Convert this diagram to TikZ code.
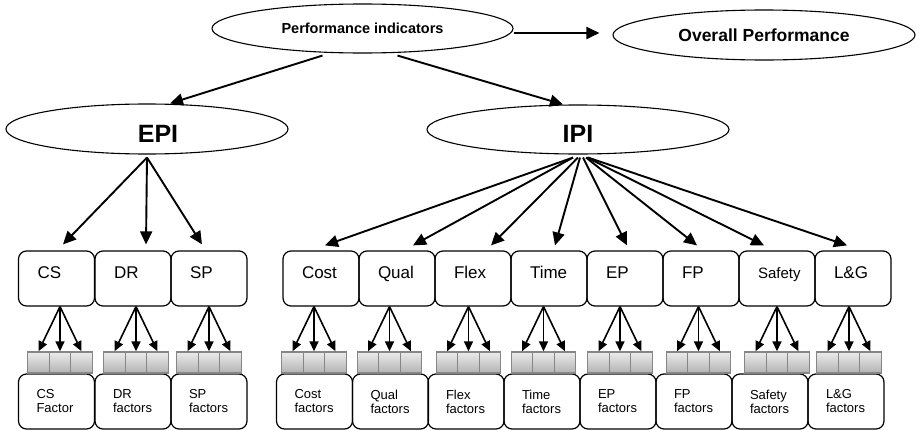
\documentclass[tikz,border=0pt]{standalone}
\usepackage{fontspec}
\setmainfont{Liberation Sans}
\usetikzlibrary{shapes.geometric,arrows.meta,calc}

\begin{document}
\begin{tikzpicture}[x=1pt,y=-1pt,
    oval/.style={draw,ellipse,line width=1.1pt,inner sep=0pt},
    topbox/.style={draw,rounded corners=8pt,line width=1.2pt,minimum width=76pt,minimum height=55pt,inner xsep=19pt,inner ysep=0pt,text width=38pt,align=left,text height=12pt,text depth=12pt,font=\fontsize{17}{17}\selectfont},
    factbox/.style={draw,rounded corners=8pt,line width=1.2pt,minimum width=76pt,minimum height=55pt,inner xsep=18pt,inner ysep=0pt,text width=40pt,align=left,font=\fontsize{13}{14}\selectfont},
    cell/.style={draw=gray!95,line width=1.4pt,top color=gray!15,bottom color=gray!60,minimum width=21.5pt,minimum height=21pt,inner sep=0pt},
    bigarr/.style={-{Triangle[length=13pt,width=12pt]},line width=1.9pt},
    smallarr/.style={-{Triangle[length=10pt,width=9pt]},line width=1.6pt}]
    \useasboundingbox (0,0) rectangle (916,431);
    % top level
    \node[oval,minimum width=301pt,minimum height=49pt,font=\bfseries\fontsize{14.5}{14.5}\selectfont] (perf) at (362.5,28.5) {Performance indicators\hspace{24pt}};
    \node[oval,minimum width=302pt,minimum height=50pt,font=\bfseries\fontsize{17.5}{17.5}\selectfont] (overall) at (764,35) {Overall Performance\hspace{20pt}};
    \node[oval,minimum width=282pt,minimum height=50pt,font=\bfseries\fontsize{25}{25}\selectfont,text height=26pt,text depth=0pt] (epi) at (147,129) {\hspace{22pt}EPI};
    \node[oval,minimum width=302pt,minimum height=49pt,font=\bfseries\fontsize{25}{25}\selectfont,text height=26pt,text depth=0pt] (ipi) at (578,129.5) {IPI};
    \draw[bigarr] ($(perf.east)+(0,4.5)$) -- ($(perf.east -| overall.west)+(-13,4.5)$);
    \draw[bigarr] ($(perf.south)+(-40,2)$) -- ($(epi.north)+(23,0)$);
    \draw[bigarr] ($(perf.south)+(35,2)$) -- ($(ipi.north)+(-15,0)$);
    % indicator boxes, factor cells and factor boxes
    \foreach \i/\lab/\tx/\bx/\sx/\fac in {1/CS/56.5/56.5/60/{CS\\Factor},
        2/DR/133/133/136/{DR\\factors}, 3/SP/209/209/209/{SP\\factors},
        4/Cost/321/314.5/314/{Cost\\factors}, 5/Qual/397/390.5/389.5/{Qual\\factors},
        6/Flex/473/466/468.5/{Flex\\factors}, 7/Time/549/542/543.5/{Time\\factors},
        8/EP/625/618/620/{EP\\factors}, 9/FP/701/694/698.5/{FP\\factors},
        10/{\fontsize{15}{15}\selectfont Safety}/777/770/777/{Safety\\factors},
        11/L\&G/853/846/849/{L\&G\\factors}}
    {
        \node[topbox] (top\i) at (\tx,278.5) {\lab};
        \node[factbox] (fac\i) at (\bx,401.5) {\fac};
        \node[cell] (cell\i-1) at (\sx-21.5,362.5) {};
        \node[cell] (cell\i-2) at (\sx,362.5) {};
        \node[cell] (cell\i-3) at (\sx+21.5,362.5) {};
        \foreach \j in {1,2,3}
            \draw[smallarr] (top\i.south -| cell\i-2.north) -- (cell\i-\j.north);
    }
    % EPI and IPI arrows
    \foreach \i/\dx in {1/6.5, 2/13, 3/-7}
        \draw[bigarr] ($(epi.south)+(0,3)$) -- ($(top\i.north)+(\dx,-6)$);
    \foreach \i/\ds/\dx in {4/-5/4, 5/-5/16, 6/0/18, 7/2/6, 8/5/2, 9/8/-4, 10/9/-13, 11/10/-6}
        \draw[bigarr] ($(ipi.south)+(\ds,3)$) -- ($(top\i.north)+(\dx,-5)$);
\end{tikzpicture}
\end{document}
